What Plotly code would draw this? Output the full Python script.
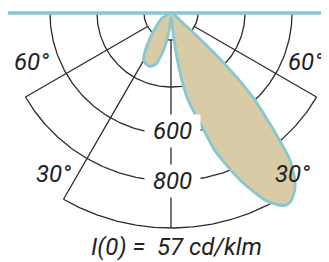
import numpy as np
import plotly.graph_objects as go

# ---------------- data (cd/klm, angles in degrees from nadir, + = right) ----------------
beam_theta = [-90, -60, -50, -40, -35, -31, -27, -22, -17, -13, -9, -5, 0, 3, 6, 7.5, 9, 11,
              13.5, 15.5, 17.5, 19.5, 22.5, 25, 27, 29.5, 31, 32.5, 35, 37, 39, 40.5, 42, 44,
              45.5, 46.5, 47.5, 49, 52, 60, 90]
beam_I = [85, 130, 160, 222, 272, 312, 326, 330, 316, 270, 208, 140, 104, 112, 170, 276, 362, 459,
          532, 596, 694, 757, 855, 928, 983, 1025, 1038, 1034, 1004, 957, 889, 796, 702, 596,
          489, 404, 298, 191, 128, 102, 85]

ring_values = [200, 400, 600, 800, 1000]
ring_half_span = [90, 90, 90, 60, 30]
spoke_angles = [-60, -30, 0, 30, 60]
spoke_outer = [800, 1000, 1000, 1000, 800]
spoke_inner = 200

angle_labels = ["60°", "60°", "30°", "30°"]
ring_labels = ["600", "800"]
footer = "I(0) =\u00a0\u00a057 cd/klm"

I_POLE = 85  # intensity value at the pole of the drawn scale

GRID = "#2b2b2b"
CYAN = "#86c7d2"
BEIGE = "#d9cba5"
TEXT = "#222222"
FONT = "Roboto, 'DejaVu Sans', sans-serif"


def to_xy(theta_deg, I):
    r = np.clip(np.asarray(I, float) - I_POLE, 0, None)
    t = np.radians(np.asarray(theta_deg, float))
    return r * np.sin(t), -r * np.cos(t)


fig = go.Figure()

# grid rings
for val, span in zip(ring_values, ring_half_span):
    th = np.linspace(-span, span, 181)
    x, y = to_xy(th, np.full_like(th, val))
    fig.add_trace(go.Scatter(x=x, y=y, mode="lines", line=dict(color=GRID, width=1.3),
                             hoverinfo="skip", showlegend=False))

# grid spokes
for ang, outer in zip(spoke_angles, spoke_outer):
    x, y = to_xy([ang, ang], [spoke_inner, outer])
    fig.add_trace(go.Scatter(x=x, y=y, mode="lines", line=dict(color=GRID, width=1.3),
                             hoverinfo="skip", showlegend=False))

# luminous intensity curve
bx, by = to_xy(beam_theta, beam_I)
fig.add_trace(go.Scatter(x=bx, y=by, mode="lines", fill="toself", fillcolor=BEIGE,
                         line=dict(color=CYAN, width=2.8, shape="spline", smoothing=0.5),
                         hoverinfo="skip", showlegend=False))

W, H = 329, 262
OFF = 8  # page body margin in the browser
CX, CY = 171 - OFF, 13 - OFF
K = 0.235  # px per cd

xr = [(0 - CX) / K, (W - CX) / K]
yr = [(CY - H) / K, CY / K]

# top luminaire plane line
fig.add_shape(type="line", x0=xr[0], x1=xr[1], y0=0, y1=0,
              line=dict(color=CYAN, width=3.4), layer="above")


def px(xp, yp):
    return (xp - OFF) / W, 1 - (yp - OFF) / H


ann = []
for txt, (xp, yp) in zip(angle_labels, [(31, 62), (305, 62), (53, 174), (292, 174)]):
    ax_, ay_ = px(xp, yp)
    ann.append(dict(text=txt, x=ax_, y=ay_, xref="paper", yref="paper", showarrow=False,
                    xanchor="center", yanchor="middle",
                    font=dict(family=FONT, size=24, color=TEXT, style="italic")))
for txt, (xp, yp) in zip(ring_labels, [(172, 131), (172, 181)]):
    ax_, ay_ = px(xp, yp)
    ann.append(dict(text="\u00a0" + txt + "\u00a0", x=ax_, y=ay_, xref="paper", yref="paper",
                    showarrow=False, xanchor="center", yanchor="middle", bgcolor="white",
                    borderpad=2,
                    font=dict(family=FONT, size=24, color=TEXT, style="italic")))
ax_, ay_ = px(176, 247)
ann.append(dict(text=footer, x=ax_, y=ay_, xref="paper", yref="paper", showarrow=False,
                xanchor="center", yanchor="middle",
                font=dict(family=FONT, size=24, color=TEXT, style="italic")))

fig.update_layout(
    width=W, height=H, margin=dict(l=0, r=0, t=0, b=0),
    paper_bgcolor="white", plot_bgcolor="white",
    xaxis=dict(range=xr, visible=False, fixedrange=True),
    yaxis=dict(range=yr, visible=False, fixedrange=True),
    annotations=ann,
)

fig.write_html("out.html")
